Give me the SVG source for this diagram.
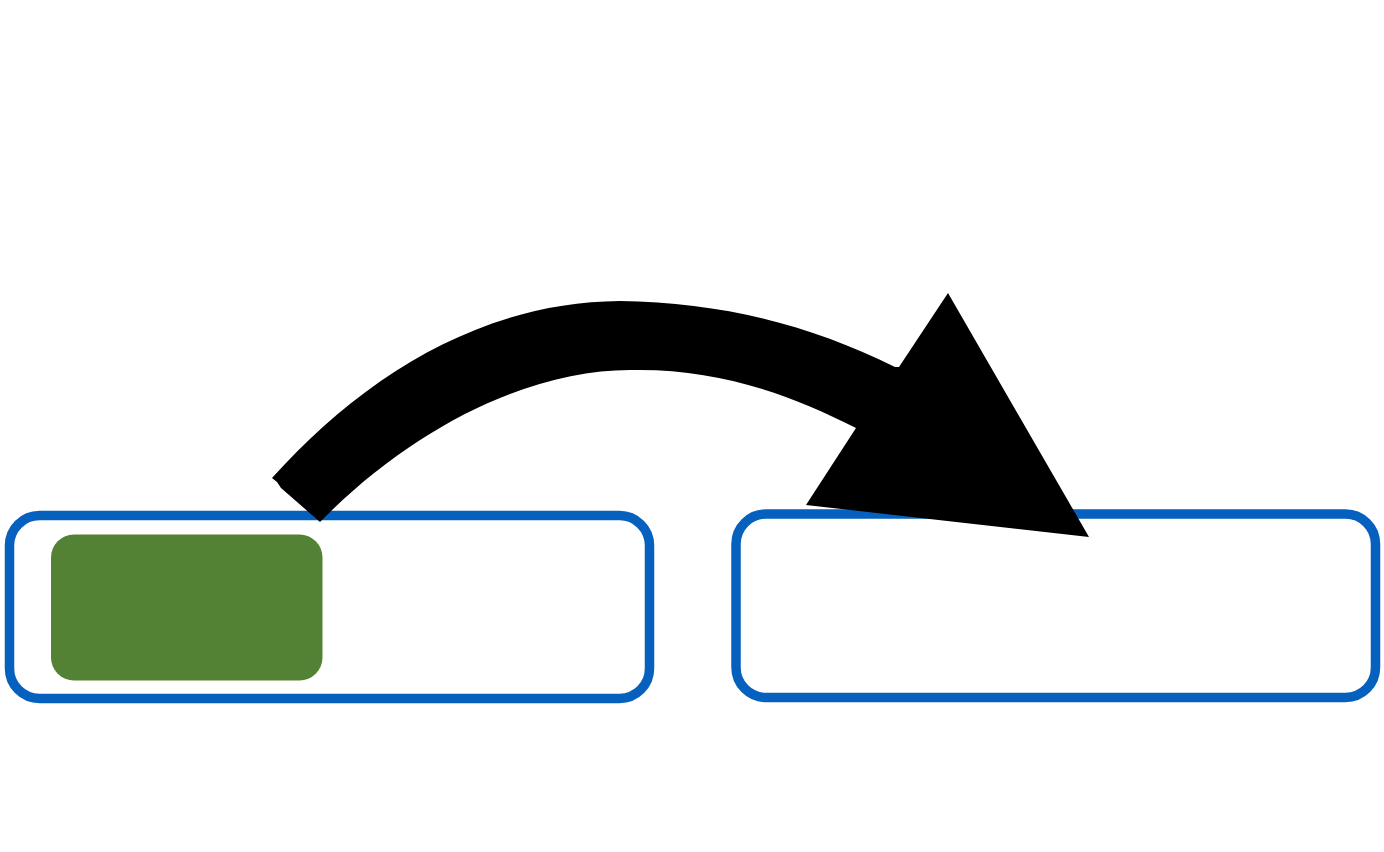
<svg xmlns="http://www.w3.org/2000/svg" width="1384" height="852" viewBox="0 0 1384 852">
<style>
.box{fill:#ffffff;stroke:#0560BE;stroke-width:9.5}
.inner{fill:#548235;stroke:none}
.arrow{fill:#000000;stroke:none}
</style>
<rect width="1384" height="852" fill="#ffffff"/>
<g id="left-box">
<rect class="box" x="9.5" y="515.5" width="640" height="183" rx="30" ry="30"/>
</g>
<g id="green-block">
<rect class="inner" x="51" y="534.5" width="271.5" height="146" rx="23" ry="23"/>
</g>
<g id="right-box">
<rect class="box" x="736" y="514" width="639.5" height="183.5" rx="30" ry="30"/>
</g>
<g id="connectors">
<path class="arrow" d="M 272,478 C 362,378 480,302 620,301 C 720,302 810,325 895,367 L 899,367 L 948,293 L 1089,537 L 806,505 L 856,428 C 785,392 715,369 635,370 C 540,368 420,420 320,522 L 281,488 L 277,482 Z"/>
</g>
</svg>
